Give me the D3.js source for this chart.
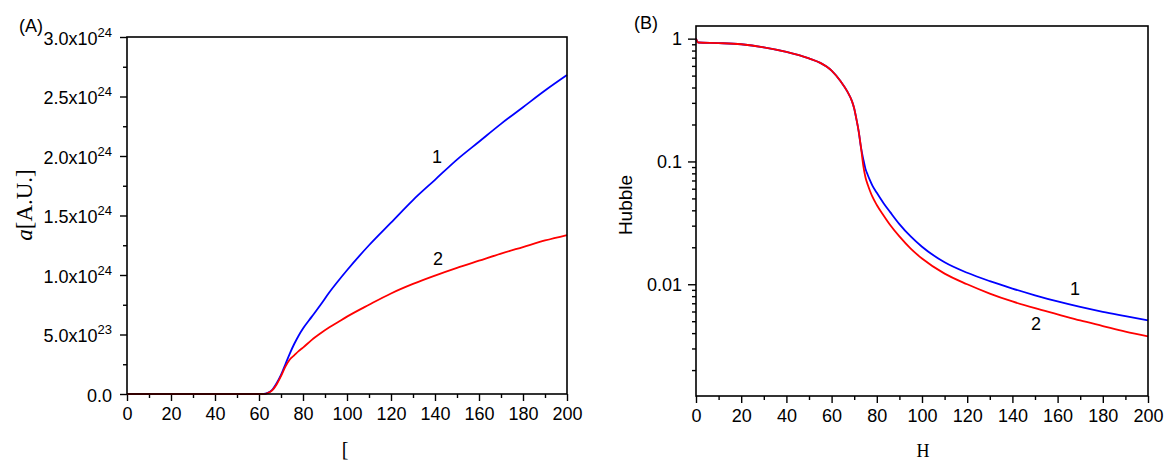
<!DOCTYPE html>
<html>
<head>
<meta charset="utf-8">
<script src="https://cdn.jsdelivr.net/npm/d3@7"></script>
<style>
  body { margin: 0; background: #fff; }
  svg { display: block; }
  text { font-family: "Liberation Sans", Arial, sans-serif; fill: #000; }
</style>
</head>
<body>
<svg id="chart" width="1175" height="473"></svg>
<script>
// panel A: scale factor a [A.U.], values in units of 1e24
const xA = [0, 60, 62, 64, 66, 68, 70, 72, 74, 76, 78, 80, 84, 88, 92, 96, 100, 110, 120, 130, 140, 150, 160, 170, 180, 190, 200];
const aBlue = [0, 0, 0, 0.01, 0.035, 0.09, 0.16, 0.25, 0.34, 0.42, 0.49, 0.55, 0.65, 0.75, 0.855, 0.95, 1.04, 1.25, 1.44, 1.63, 1.80, 1.97, 2.12, 2.27, 2.41, 2.55, 2.68];
const aRed  = [0, 0, 0, 0.008, 0.03, 0.08, 0.15, 0.23, 0.29, 0.325, 0.36, 0.39, 0.455, 0.51, 0.56, 0.605, 0.65, 0.75, 0.845, 0.925, 0.995, 1.06, 1.12, 1.18, 1.235, 1.29, 1.336];

// panel B: Hubble parameter (log scale)
const xB = [0, 1, 10, 20, 30, 40, 50, 55, 60, 64, 67, 69, 70, 71, 72, 73,
  74, 75, 76, 77, 78, 80, 83, 86, 90, 95, 100, 110, 120, 130, 140, 150, 160, 170, 180, 190, 200];
const hBlue = [1.0, 0.93, 0.92, 0.90, 0.85, 0.78, 0.69, 0.635, 0.55, 0.45, 0.37, 0.31, 0.27, 0.22, 0.175, 0.13,
  0.105, 0.087, 0.0776, 0.070, 0.0638, 0.0556, 0.0457, 0.0385, 0.0309, 0.0245, 0.0202, 0.0151, 0.0124, 0.0106, 0.00923, 0.00813, 0.00724, 0.00653, 0.00596, 0.0055, 0.00508];
const hRed  = [1.0, 0.93, 0.92, 0.90, 0.85, 0.78, 0.69, 0.635, 0.55, 0.45, 0.37, 0.31, 0.27, 0.22, 0.175, 0.13,
  0.093, 0.074, 0.0646, 0.0575, 0.0519, 0.0442, 0.0363, 0.0302, 0.0245, 0.0195, 0.0162, 0.0122, 0.0100, 0.0084, 0.00724, 0.00638, 0.00569, 0.00507, 0.00457, 0.00412, 0.00377];

const xMajor = [0, 20, 40, 60, 80, 100, 120, 140, 160, 180, 200];
const xMinor = [10, 30, 50, 70, 90, 110, 130, 150, 170, 190];
const yMajorA = [0, 0.5, 1.0, 1.5, 2.0, 2.5, 3.0];
const yMinorA = [0.25, 0.75, 1.25, 1.75, 2.25, 2.75];
const yLabelsA = ["0.0", "5.0x10|23", "1.0x10|24", "1.5x10|24", "2.0x10|24", "2.5x10|24", "3.0x10|24"];
const yMajorB = [0.01, 0.1, 1];
const yLabelsB = ["0.01", "0.1", "1"];

const svg = d3.select('#chart');

function frame(g, x, y){
    let [x0, x1] = x.range();
    let [y0, y1] = y.range();
    g.append('rect').attr('x', x0).attr('y', y1).attr('width', x1 - x0).attr('height', y0 - y1)
        .attr('fill', 'none').attr('stroke', '#000').attr('stroke-width', 1.6);
}

function xAxis(g, x, y){
    let y0 = y.range()[0];
    g.append('g').attr('transform', `translate(0,${y0})`)
        .call(d3.axisBottom(x).tickValues(xMinor).tickSize(4).tickFormat(''))
        .call(s => s.select('.domain').remove());
    g.append('g').attr('transform', `translate(0,${y0})`)
        .call(d3.axisBottom(x).tickValues(xMajor).tickSize(7).tickPadding(6))
        .call(s => s.select('.domain').remove())
        .call(s => s.selectAll('text').attr('font-size', 18).attr('font-family', '"Liberation Sans", Arial, sans-serif'));
}

function drawLine(g, x, y, xs, ys, color){
    let line = d3.line().x(d => x(d[0])).y(d => y(d[1])).curve(d3.curveMonotoneX);
    g.append('path').datum(xs.map((v, i) => [v, ys[i]]))
        .attr('d', line).attr('fill', 'none').attr('stroke', color).attr('stroke-width', 1.8);
}

// ---- panel A ----
let gA = svg.append('g');
let xa = d3.scaleLinear().domain([0, 200]).range([127, 567]);
let ya = d3.scaleLinear().domain([0, 3]).range([394, 37]);

gA.append('g').attr('transform', 'translate(127,0)')
    .call(d3.axisLeft(ya).tickValues(yMinorA).tickSize(4).tickFormat(''))
    .call(s => s.select('.domain').remove());
gA.append('g').attr('transform', 'translate(127,0)')
    .call(d3.axisLeft(ya).tickValues(yMajorA).tickSize(7).tickPadding(8).tickFormat(() => ''))
    .call(s => s.select('.domain').remove())
    .call(s => s.selectAll('.tick text').each(function(d, i){
        let t = d3.select(this).attr('font-size', 18).attr('dy', '0.4em');
        let parts = yLabelsA[i].split('|');
        t.append('tspan').text(parts[0]);
        if(parts[1]) t.append('tspan').attr('font-size', 13).attr('dy', '-0.6em').text(parts[1]);
    }));
xAxis(gA, xa, ya);
gA.selectAll('.tick line').attr('stroke-width', 1.4);
drawLine(gA, xa, ya, xA, aBlue, '#0000ff');
drawLine(gA, xa, ya, xA, aRed, '#ff0000');
frame(gA, xa, ya);

gA.append('text').attr('x', 437).attr('y', 163).attr('font-size', 18).attr('text-anchor', 'middle').text('1');
gA.append('text').attr('x', 438).attr('y', 265).attr('font-size', 18).attr('text-anchor', 'middle').text('2');
gA.append('text').attr('x', 19).attr('y', 32).attr('font-size', 18).text('(A)');
gA.append('text').attr('transform', 'translate(32,205) rotate(-90)').attr('text-anchor', 'middle')
    .attr('font-size', 23).style('font-family', '"Liberation Serif", "Times New Roman", serif')
    .call(t => { t.append('tspan').attr('font-style', 'italic').text('a'); t.append('tspan').text('[A.U.]'); });
gA.append('text').attr('x', 345).attr('y', 456).attr('font-size', 20).attr('text-anchor', 'middle')
    .style('font-family', '"Liberation Serif", "Times New Roman", serif').text('[');

// ---- panel B ----
let gB = svg.append('g');
let xb = d3.scaleLinear().domain([0, 200]).range([696, 1148]);
let yb = d3.scaleLog().domain([10 ** -2.91, 10 ** 0.103]).range([396, 26]);
let minorB = yb.ticks().filter(v => Math.abs(Math.log10(v) - Math.round(Math.log10(v))) > 1e-6);

gB.append('g').attr('transform', 'translate(696,0)')
    .call(d3.axisLeft(yb).tickValues(minorB).tickSize(4).tickFormat(''))
    .call(s => s.select('.domain').remove());
gB.append('g').attr('transform', 'translate(696,0)')
    .call(d3.axisLeft(yb).tickValues(yMajorB).tickSize(8).tickPadding(6).tickFormat((d, i) => yLabelsB[i]))
    .call(s => s.select('.domain').remove())
    .call(s => s.selectAll('text').attr('font-size', 18).attr('font-family', '"Liberation Sans", Arial, sans-serif'));
xAxis(gB, xb, yb);
gB.selectAll('.tick line').attr('stroke-width', 1.4);
drawLine(gB, xb, yb, xB, hBlue, '#0000ff');
drawLine(gB, xb, yb, xB, hRed, '#ff0000');
frame(gB, xb, yb);

gB.append('text').attr('x', 1075).attr('y', 295).attr('font-size', 18).attr('text-anchor', 'middle').text('1');
gB.append('text').attr('x', 1036).attr('y', 330).attr('font-size', 18).attr('text-anchor', 'middle').text('2');
gB.append('text').attr('x', 634).attr('y', 29).attr('font-size', 18).text('(B)');
gB.append('text').attr('transform', 'translate(632,205) rotate(-90)').attr('text-anchor', 'middle')
    .attr('font-size', 19).text('Hubble');
gB.append('text').attr('x', 923).attr('y', 457).attr('font-size', 18).attr('text-anchor', 'middle')
    .style('font-family', '"Liberation Serif", "Times New Roman", serif').text('H');
</script>
</body>
</html>
